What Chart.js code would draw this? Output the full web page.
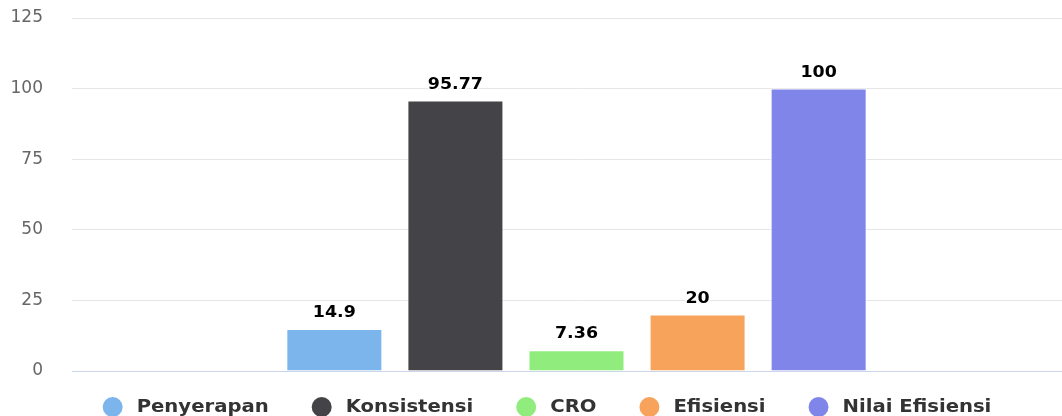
<!DOCTYPE html>
<html lang="id">
<head>
    <meta charset="UTF-8">
    <title>Nilai Efisiensi</title>
    <style>
        html, body {
            margin: 0;
            padding: 0;
            background: #fff;
            overflow: hidden;
        }
        .chart-wrap {
            width: 1090px;
            height: 416px;
        }
        canvas {
            display: block;
        }
    </style>
    <script src="https://cdn.jsdelivr.net/npm/chart.js@4.4.0/dist/chart.umd.min.js"></script>
</head>
<body>
    <div class="chart-wrap">
        <canvas id="barChart" width="1090" height="416"></canvas>
    </div>

    <script>
        // one category, each indicator is its own series
        const categories = [''];
        const seriesNames = ['Penyerapan', 'Konsistensi', 'CRO', 'Efisiensi', 'Nilai Efisiensi'];
        const seriesValues = [14.9, 95.77, 7.36, 20, 100];
        const seriesColors = ['#7cb5ec', '#434348', '#90ed7d', '#f7a35c', '#8085e9'];
        const yTicks = [0, 25, 50, 75, 100, 125];

        Chart.defaults.font.family = '"DejaVu Sans", Verdana, sans-serif';

        // value above each bar, bold with a white halo
        const valueLabels = {
            id: 'valueLabels',
            afterDatasetsDraw(chart) {
                const ctx = chart.ctx;
                ctx.save();
                ctx.font = 'bold 16px "DejaVu Sans", sans-serif';
                ctx.textAlign = 'center';
                ctx.textBaseline = 'alphabetic';
                ctx.lineJoin = 'round';
                chart.data.datasets.forEach((ds, i) => {
                    const bar = chart.getDatasetMeta(i).data[0];
                    const text = String(ds.data[0]);
                    ctx.save();
                    ctx.translate(bar.x, bar.y - 12);
                    ctx.scale(1.09, 1);
                    ctx.lineWidth = 3;
                    ctx.strokeStyle = '#fff';
                    ctx.strokeText(text, 0, 0);
                    ctx.fillStyle = '#000';
                    ctx.fillText(text, 0, 0);
                    ctx.restore();
                });
                ctx.restore();
            }
        };

        // legend row under the plot: round markers and bold names
        const bottomLegend = {
            id: 'bottomLegend',
            afterDraw(chart) {
                const ctx = chart.ctx;
                const sx = 1.155;
                const r = 10;
                const textGap = 24;
                const itemGap = 53;
                const y = 408;
                ctx.save();
                ctx.font = 'bold 17px "DejaVu Sans", sans-serif';
                ctx.textBaseline = 'middle';
                const items = chart.data.datasets.map(ds => ({
                    label: ds.label,
                    color: ds.backgroundColor,
                    w: ctx.measureText(ds.label).width * sx
                }));
                let total = r;
                items.forEach((it, i) => {
                    total += textGap + it.w;
                    if (i < items.length - 1) total += itemGap;
                });
                let x = (chart.width - total) / 2 + r + 2;
                items.forEach(it => {
                    ctx.beginPath();
                    ctx.arc(x, y - 1, r, 0, Math.PI * 2);
                    ctx.fillStyle = it.color;
                    ctx.fill();
                    ctx.save();
                    ctx.translate(x + textGap, y);
                    ctx.scale(sx, 1);
                    ctx.fillStyle = '#333';
                    ctx.fillText(it.label, 0, 0);
                    ctx.restore();
                    x += textGap + it.w + itemGap;
                });
                ctx.restore();
            }
        };

        const ctx = document.getElementById('barChart').getContext('2d');
        new Chart(ctx, {
            type: 'bar',
            data: {
                labels: categories,
                datasets: seriesNames.map((name, i) => ({
                    label: name,
                    data: [seriesValues[i]],
                    backgroundColor: seriesColors[i],
                    borderColor: '#ffffff',
                    borderWidth: 1,
                    categoryPercentage: 0.6,
                    barPercentage: 0.793
                }))
            },
            options: {
                responsive: false,
                devicePixelRatio: 1,
                animation: false,
                layout: {
                    padding: { top: 18, left: 11, right: 9, bottom: 45 }
                },
                plugins: {
                    legend: { display: false },
                    tooltip: { enabled: false }
                },
                scales: {
                    x: {
                        grid: { display: false, drawTicks: false },
                        border: { display: true, color: '#ccd6eb', width: 1 },
                        ticks: { display: false }
                    },
                    y: {
                        min: 0,
                        max: 125,
                        afterBuildTicks(axis) {
                            axis.ticks = yTicks.map(v => ({ value: v }));
                        },
                        afterFit(axis) {
                            axis.width = 61;
                            axis.paddingTop = 0;
                            axis.paddingBottom = 0;
                        },
                        grid: { color: '#e6e6e6', drawTicks: false },
                        border: { display: false },
                        ticks: {
                            padding: 29,
                            color: '#666666',
                            font: { size: 17 }
                        }
                    }
                }
            },
            plugins: [valueLabels, bottomLegend]
        });
    </script>
</body>
</html>
